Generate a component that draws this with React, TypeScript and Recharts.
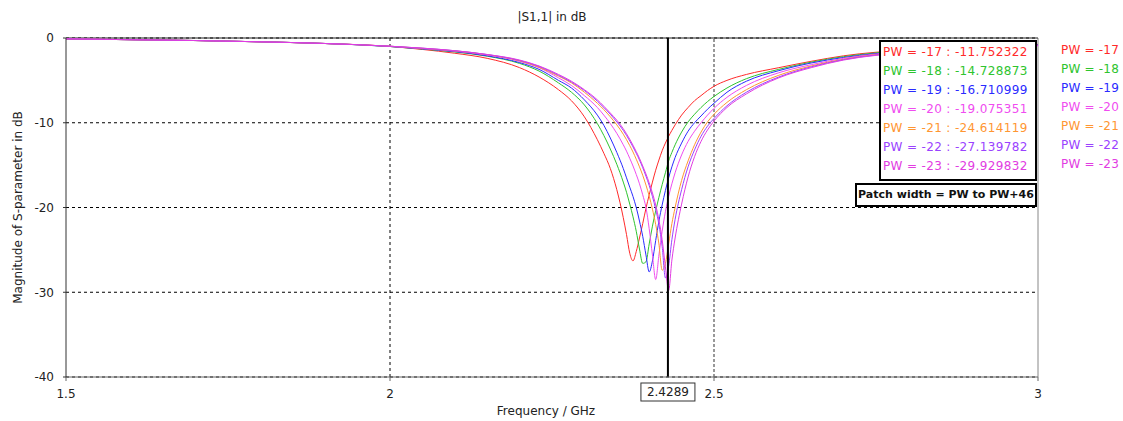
import { LineChart, Line, XAxis, YAxis, CartesianGrid, ReferenceLine, Label } from 'recharts';

const FREQ = [
  1.5, 1.6, 1.7, 1.8, 1.9, 2.0, 2.05, 2.1, 2.15, 2.2, 2.23, 2.26, 2.28, 2.3, 2.32, 2.33, 2.34,
  2.35, 2.36, 2.365, 2.37, 2.375, 2.38, 2.385, 2.39, 2.395, 2.4, 2.405, 2.41, 2.415, 2.42,
  2.425, 2.43, 2.435, 2.44, 2.45, 2.46, 2.47, 2.48, 2.49, 2.5, 2.52, 2.55, 2.6, 2.65, 2.7,
  2.8, 2.9, 3.0,
];

const PW17 = [
  -0.1, -0.2, -0.3, -0.45, -0.65, -1.0, -1.35, -1.8, -2.4, -3.5, -4.6, -6.1, -7.4, -9.3, -12.0,
  -13.6, -15.4, -17.9, -21.2, -23.2, -25.4, -26.3, -25.2, -23.6, -21.9, -20.1, -18.5, -17.0,
  -15.6, -14.4, -13.3, -12.4, -11.6, -10.9, -10.25, -9.1, -8.2, -7.4, -6.8, -6.2, -5.7, -5.0,
  -4.3, -3.5, -2.75, -2.1, -1.4, -1.0, -0.75,
];
const PW18 = [
  -0.1, -0.2, -0.3, -0.45, -0.65, -1.0, -1.3, -1.65, -2.15, -3.0, -3.9, -5.3, -6.4, -7.9, -10.1,
  -11.5, -13.1, -14.9, -17.0, -18.2, -19.6, -21.1, -22.8, -24.9, -26.6, -26.4, -24.3, -22.2,
  -20.4, -18.8, -17.3, -15.9, -14.5, -13.5, -12.6, -11.1, -9.9, -9.0, -8.2, -7.5, -6.9, -5.9,
  -4.8, -3.7, -2.85, -2.2, -1.45, -1.05, -0.8,
];
const PW19 = [
  -0.1, -0.2, -0.3, -0.45, -0.65, -1.0, -1.28, -1.6, -2.1, -2.9, -3.7, -5.0, -5.9, -7.3, -9.1,
  -10.3, -11.8, -13.5, -15.4, -16.5, -17.6, -18.7, -20.0, -21.6, -23.4, -25.6, -27.6, -26.3,
  -23.9, -21.6, -19.7, -18.0, -16.5, -15.2, -14.1, -12.4, -11.0, -10.0, -9.2, -8.4, -7.7, -6.4,
  -5.1, -3.85, -2.95, -2.3, -1.5, -1.05, -0.82,
];
const PW20 = [
  -0.1, -0.2, -0.3, -0.45, -0.65, -0.97, -1.25, -1.55, -2.0, -2.75, -3.5, -4.7, -5.6, -6.8, -8.2,
  -9.1, -10.1, -11.25, -12.6, -13.35, -14.2, -15.1, -16.1, -17.2, -18.5, -20.0, -22.5, -25.6,
  -28.5, -25.6, -22.8, -20.5, -18.7, -17.2, -15.9, -13.8, -12.2, -11.0, -10.0, -9.1, -8.3, -7.0,
  -5.6, -4.1, -3.15, -2.4, -1.55, -1.1, -0.85,
];
const PW21 = [
  -0.1, -0.2, -0.3, -0.45, -0.65, -0.97, -1.22, -1.52, -1.97, -2.7, -3.45, -4.5, -5.3, -6.4, -7.7,
  -8.45, -9.3, -10.25, -11.35, -12.0, -12.7, -13.45, -14.3, -15.2, -16.2, -17.35, -18.65, -20.2,
  -22.0, -24.3, -27.4, -26.6, -24.3, -21.9, -20.0, -16.8, -14.5, -12.6, -11.1, -9.9, -9.0, -7.6,
  -6.1, -4.4, -3.3, -2.5, -1.6, -1.15, -0.88,
];
const PW22 = [
  -0.1, -0.2, -0.3, -0.45, -0.65, -0.97, -1.2, -1.5, -1.95, -2.65, -3.35, -4.4, -5.2, -6.2, -7.45,
  -8.2, -9.0, -9.9, -10.9, -11.5, -12.15, -12.85, -13.6, -14.4, -15.3, -16.3, -17.4, -18.7,
  -20.2, -22.0, -24.6, -28.3, -26.9, -23.8, -21.4, -17.9, -15.2, -13.2, -11.6, -10.4, -9.5,
  -8.0, -6.4, -4.6, -3.4, -2.55, -1.65, -1.15, -0.9,
];
const PW23 = [
  -0.1, -0.2, -0.3, -0.45, -0.65, -0.97, -1.2, -1.5, -1.95, -2.6, -3.3, -4.3, -5.1, -6.1, -7.3,
  -8.05, -8.85, -9.7, -10.7, -11.3, -11.95, -12.65, -13.4, -14.2, -15.1, -16.05, -17.1, -18.3,
  -19.7, -21.5, -23.8, -27.0, -29.8, -26.2, -23.6, -19.6, -16.4, -14.0, -12.2, -10.85, -9.8,
  -8.2, -6.6, -4.7, -3.5, -2.6, -1.7, -1.2, -0.9,
];

const SERIES = [PW17, PW18, PW19, PW20, PW21, PW22, PW23];
const NAMES = ['PW = -17', 'PW = -18', 'PW = -19', 'PW = -20', 'PW = -21', 'PW = -22', 'PW = -23'];
const MARKER_VALUES = [
  '-11.752322', '-14.728873', '-16.710999', '-19.075351', '-24.614119', '-27.139782', '-29.929832',
];
const COLORS = ['#ff2a2a', '#2ec42e', '#2a2aff', '#f04cf0', '#ff9632', '#9a42ff', '#e23ce2'];

const X_TICKS = [1.5, 2, 2.5, 3];
const Y_TICKS = [0, -10, -20, -30, -40];
const MARKER_FREQ = 2.4289;

const data = FREQ.map((f, i) => {
  const row: Record<string, number> = { f };
  SERIES.forEach((s, k) => {
    row['s' + k] = s[i];
  });
  return row;
});

const FONT = 'DejaVu Sans';

const App = () => {
  return (
    <div
      style={{
        position: 'absolute',
        left: 0,
        top: 0,
        width: 1123,
        height: 421,
        background: '#fff',
        fontFamily: FONT,
      }}
    >
      <LineChart width={1123} height={421} data={data} margin={{ top: 38, right: 85, bottom: 0, left: 0 }}>
        <CartesianGrid vertical={false} stroke="#000" strokeDasharray="3 3" />
        <XAxis
          type="number"
          dataKey="f"
          domain={[1.5, 3]}
          ticks={X_TICKS}
          height={44}
          tickSize={4}
          tickMargin={8}
          stroke="#666"
          tick={{ fill: '#222', fontSize: 12, fontFamily: FONT }}
        >
          <Label
            content={({ viewBox }: any) => (
              <text
                x={viewBox.x + viewBox.width / 2 - 6}
                y={viewBox.y + 38}
                textAnchor="middle"
                fontSize={12}
                fontFamily={FONT}
                fill="#222"
              >
                Frequency / GHz
              </text>
            )}
          />
        </XAxis>
        <YAxis
          type="number"
          domain={[-40, 0]}
          ticks={Y_TICKS}
          width={66}
          tickSize={3}
          tickMargin={9}
          stroke="#333"
          tick={{ fill: '#222', fontSize: 12, fontFamily: FONT }}
        >
          <Label
            content={({ viewBox }: any) => {
              const cx = viewBox.x + 22;
              const cy = viewBox.y + viewBox.height / 2;
              return (
                <text
                  x={cx}
                  y={cy}
                  transform={`rotate(-90 ${cx} ${cy})`}
                  textAnchor="middle"
                  fontSize={12}
                  fontFamily={FONT}
                  fill="#222"
                >
                  Magnitude of S-parameter in dB
                </text>
              );
            }}
          />
        </YAxis>
        <ReferenceLine x={2} stroke="#000" strokeDasharray="3 3" />
        <ReferenceLine x={2.5} stroke="#777" strokeDasharray="3 2" strokeWidth={1.5} />
        <ReferenceLine x={3} stroke="#888" />
        <ReferenceLine
          y={0}
          stroke="#222"
          label={({ viewBox }: any) => (
            <text
              x={viewBox.x + viewBox.width / 2}
              y={viewBox.y - 17}
              textAnchor="middle"
              fontSize={12}
              fontFamily={FONT}
              fill="#222"
            >
              |S1,1| in dB
            </text>
          )}
        />
        {SERIES.map((_, k) => (
          <Line
            key={k}
            type="monotone"
            dataKey={'s' + k}
            stroke={COLORS[k]}
            strokeWidth={1}
            dot={false}
            isAnimationActive={false}
          />
        ))}
        <ReferenceLine
          x={MARKER_FREQ}
          stroke="#000"
          strokeWidth={2}
          label={({ viewBox }: any) => {
            const bx = viewBox.x;
            const by = viewBox.y + viewBox.height;
            return (
              <g>
                <rect x={bx - 27} y={by + 6} width={54} height={18} fill="#fff" stroke="#333" />
                <text x={bx} y={by + 19} textAnchor="middle" fontSize={12} fontFamily={FONT} fill="#222">
                  {MARKER_FREQ}
                </text>
              </g>
            );
          }}
        />
      </LineChart>

      <div
        style={{
          position: 'absolute',
          left: 879,
          top: 40,
          width: 158,
          height: 141,
          boxSizing: 'border-box',
          border: '2px solid #000',
          background: '#fff',
          paddingLeft: 2,
          paddingTop: 1,
          fontSize: 12,
          letterSpacing: 0.35,
          lineHeight: '19px',
          whiteSpace: 'nowrap',
        }}
      >
        {NAMES.map((n, k) => (
          <div key={k} style={{ color: COLORS[k] }}>
            {n} : {MARKER_VALUES[k]}
          </div>
        ))}
      </div>

      <div
        style={{
          position: 'absolute',
          left: 855,
          top: 183,
          width: 182,
          height: 24,
          boxSizing: 'border-box',
          border: '2px solid #000',
          background: '#fff',
          fontSize: 11,
          fontWeight: 'bold',
          textAlign: 'center',
          lineHeight: '20px',
          whiteSpace: 'nowrap',
          color: '#111',
        }}
      >
        Patch width = PW to PW+46
      </div>

      <div
        style={{
          position: 'absolute',
          left: 1061,
          top: 41,
          fontSize: 12,
          letterSpacing: 0.2,
          lineHeight: '19px',
          whiteSpace: 'nowrap',
        }}
      >
        {NAMES.map((n, k) => (
          <div key={k} style={{ color: COLORS[k] }}>
            {n}
          </div>
        ))}
      </div>
    </div>
  );
};

export default App;
